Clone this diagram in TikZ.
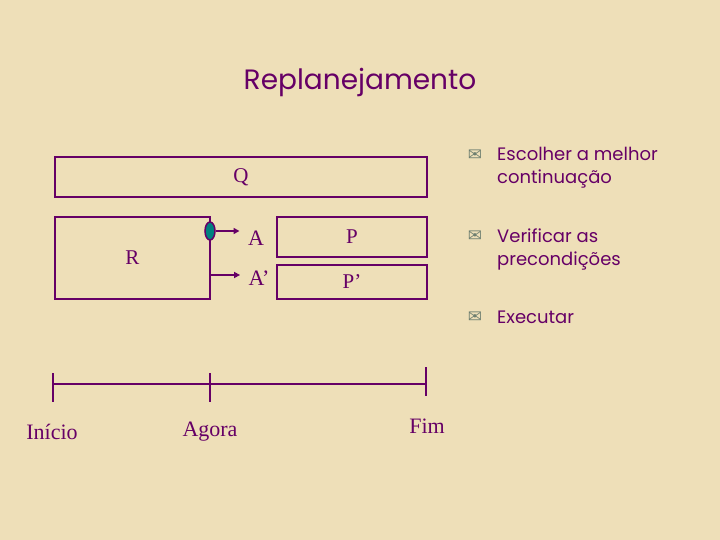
\documentclass[tikz,border=0pt]{standalone}
\usepackage{fontspec}
\setmainfont{Liberation Serif}
\newfontfamily\handfont{Poppins}
\newfontfamily\symfont{DejaVu Sans}
\usetikzlibrary{arrows.meta,shapes.geometric}

\begin{document}
\begin{tikzpicture}[x=1pt,y=-1pt]

% =======================================================
% Colour definitions
% =======================================================
\definecolor{plum}{HTML}{660066}      % lines and text
\definecolor{parch}{HTML}{EEDFB8}     % page
\definecolor{ovalfill}{HTML}{00807F}  % decision point
\definecolor{iconc}{HTML}{6E7F70}     % bullet icons

% =======================================================
% Layout parameters
% =======================================================
\def\tly{384}     % height of the time line
\def\itemx{497}   % left edge of the bullet texts

% =======================================================
% Styles
% =======================================================
\tikzset{
  box/.style  = {draw=plum, line width=2.2pt, rectangle, inner sep=0pt,
                 text=plum, font=\fontsize{21}{23}\selectfont},
  lbl/.style  = {text=plum, font=\fontsize{22}{24}\selectfont},
  conn/.style = {plum, line width=2pt},
  arr/.style  = {conn, -{Triangle[length=6pt,width=6pt]}, shorten >=5pt},
  item/.style = {text=plum, font=\handfont\fontsize{18}{23}\selectfont,
                 align=left, anchor=base west, inner sep=0pt},
  icon/.style = {text=iconc, font=\symfont\fontsize{17}{17}\selectfont},
}

\fill[parch] (0,0) rectangle (720,540);
\useasboundingbox (0,0) rectangle (720,540);

% Title
\node[text=plum, font=\handfont\fontsize{28}{30}\selectfont]
    (title) at (360,82) {Replanejamento};

% =======================================================
% Plans
% =======================================================
\node[box, minimum width=372, minimum height=40] (Q)  at (241,177) {Q};
\node[box, minimum width=155, minimum height=82] (R)  at (132.5,258) {R};
\node[box, minimum width=150, minimum height=40] (P)  at (352,237) {P};
\node[box, minimum width=150, minimum height=34] (Pp) at (352,282) {P’};

% decision point on the right side of R
\node[draw=plum, line width=1.5pt, fill=ovalfill, ellipse, inner sep=0pt,
      minimum width=10, minimum height=18] (oval) at (210,231) {};
\coordinate (split) at (210,275);

\node[lbl] (A)  at (256,238) {A};
\node[lbl] (Ap) at (259,278) {A’};

\draw[conn] (oval) -- (split);
\draw[arr] (oval.east) -- (A.west |- oval.east);
\draw[arr] (split) -- (Ap.west |- split);

% =======================================================
% Time line
% =======================================================
\coordinate (t0) at (53,\tly);
\coordinate (t1) at (210,\tly);
\coordinate (t2) at (426,\tly);

\draw[conn] (t0) -- (t2);
\foreach \t in {t0,t1}
  \draw[conn] ([yshift=11pt]\t) -- ([yshift=-18pt]\t);
\draw[conn] ([yshift=17pt]t2) -- ([yshift=-12pt]t2);

\node[lbl] (inicio) at (52,432)  {Início};
\node[lbl] (agora)  at (210,432) {Agora};
\node[lbl] (fim)    at (427,426) {Fim};

% =======================================================
% Steps (base anchor sits on the last line)
% =======================================================
\node[icon] (i1) at (475,155) {✉};
\node[icon] (i2) at (475,236) {✉};
\node[icon] (i3) at (475,317) {✉};

\node[item] (s1) at (\itemx,184) {Escolher a melhor\\continuação};
\node[item] (s2) at (\itemx,265) {Verificar as\\precondições};
\node[item] (s3) at (\itemx,323) {Executar};

\end{tikzpicture}
\end{document}
